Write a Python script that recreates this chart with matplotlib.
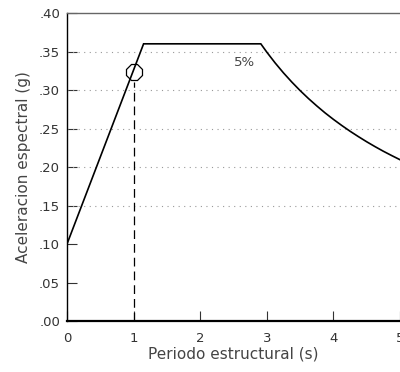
import numpy as np
import matplotlib.pyplot as plt
from matplotlib.ticker import FuncFormatter

# spectrum
periodo = [0.0, 1.15, 2.91, 3.0, 3.125, 3.25, 3.375, 3.5, 3.625, 3.75, 3.875,
           4.0, 4.125, 4.25, 4.375, 4.5, 4.625, 4.75, 4.875, 5.0]
acel = [0.10, 0.36, 0.36, 0.3492, 0.3352, 0.3223, 0.3104, 0.2993, 0.2890, 0.2794,
        0.2703, 0.2619, 0.2540, 0.2465, 0.2395, 0.2328, 0.2265, 0.2205, 0.2149, 0.2095]

# point marked on the curve
t_marca = 1.0
a_marca = 0.324
a_guia = 0.31

grid_levels = [0.15, 0.20, 0.25, 0.30, 0.35]
yticks = [0.0, 0.05, 0.10, 0.15, 0.20, 0.25, 0.30, 0.35, 0.40]
xticks = [0, 1, 2, 3, 4, 5]

fig = plt.figure(figsize=(4.0, 3.72), dpi=100)
ax = fig.add_axes([0.1675, 0.137, 0.8325, 0.828])

ax.hlines(grid_levels, 0, 5, colors='#999999', linestyles=(0, (1, 4)), linewidth=0.8)
ax.plot(periodo, acel, color='black', linewidth=1.2, solid_joinstyle='miter')
ax.plot([t_marca, t_marca], [0, a_guia], color='black', linewidth=0.9,
        linestyle=(0, (7, 4)))
ax.plot([t_marca], [a_marca], marker='8', markersize=13, markerfacecolor='none',
        markeredgecolor='black', markeredgewidth=0.9)
ax.text(2.67, 0.336, '5%', fontsize=9.5, color='#444444', ha='center', va='center')

ax.set_xlim(0, 5)
ax.set_ylim(0, 0.40)
ax.set_xticks(xticks)
ax.set_yticks(yticks)
ax.yaxis.set_major_formatter(FuncFormatter(lambda v, p: ('%.2f' % v)[1:]))
ax.tick_params(direction='in', length=7, width=0.8, labelsize=9.5,
               colors='#333333')
ax.tick_params(axis='x', pad=8)
ax.tick_params(axis='y', pad=5)

ax.spines['right'].set_visible(False)
ax.spines['top'].set_color('#666666')
ax.spines['top'].set_linewidth(1.0)
ax.spines['bottom'].set_linewidth(1.6)
ax.spines['left'].set_linewidth(1.0)

ax.set_xlabel('Periodo estructural (s)', fontsize=11, color='#444444', labelpad=1)
ax.set_ylabel('Aceleracion espectral (g)', fontsize=11, color='#444444', labelpad=6)

fig.savefig('out.png', dpi=100)
